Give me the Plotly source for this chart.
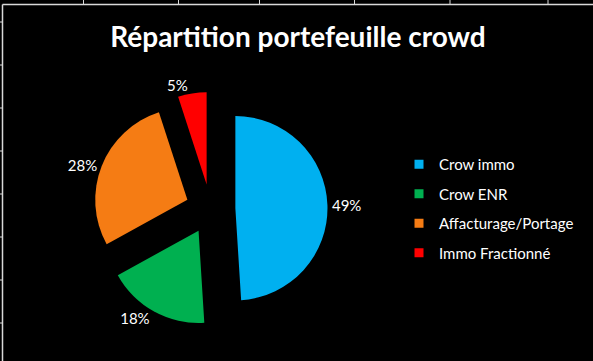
import plotly.graph_objects as go

labels = ["Crow immo", "Crow ENR", "Affacturage/Portage", "Immo Fractionné"]
values = [49, 18, 28, 5]
colors = ["#00B0F0", "#00B050", "#F57C14", "#FF0000"]
title_text = "Répartition portefeuille crowd"

W, H = 593, 361
FONT = "Lato, 'Open Sans', sans-serif"

fig = go.Figure()

# pie geometry (pixels -> paper)
cx, cy, half = 210.5, 209.0, 117.0
pull = 0.27

fig.add_trace(go.Pie(
    labels=labels,
    values=values,
    marker=dict(colors=colors, line=dict(width=0)),
    sort=False,
    direction="clockwise",
    rotation=0,
    pull=[pull] * len(values),
    textinfo="percent",
    texttemplate="%{percent:.0%}",
    textposition="outside",
    automargin=False,
    outsidetextfont=dict(color="white", size=15, family=FONT),
    showlegend=False,
    domain=dict(x=[(cx - half) / W, (cx + half) / W],
                y=[(H - cy - half) / H, (H - cy + half) / H]),
    hoverinfo="label+percent",
))

# legend entries (one group per label so they can be spaced like the original)
for i, (lab, col) in enumerate(zip(labels, colors)):
    fig.add_trace(go.Scatter(
        x=[None], y=[None], mode="markers", name=lab,
        marker=dict(symbol="square", size=9, color=col),
        legendgroup=f"g{i}", showlegend=True,
    ))

# spreadsheet-like frame lines behind the chart
line_col = "#d9d9d9"
shapes = []
top_y = 4.5
left_x = 2.5
shapes.append(dict(type="line", xref="paper", yref="paper",
                   x0=left_x / W, x1=1, y0=1 - top_y / H, y1=1 - top_y / H,
                   line=dict(color=line_col, width=1.5)))
shapes.append(dict(type="line", xref="paper", yref="paper",
                   x0=left_x / W, x1=left_x / W, y0=0, y1=1 - top_y / H,
                   line=dict(color=line_col, width=1.5)))
for tx in [83.5, 178.5, 259.5, 354.5, 450, 548]:
    shapes.append(dict(type="line", xref="paper", yref="paper",
                       x0=tx / W, x1=tx / W, y0=1, y1=1 - top_y / H,
                       line=dict(color=line_col, width=1)))
for ty in [22, 65, 108, 151, 194, 237, 280, 323]:
    shapes.append(dict(type="line", xref="paper", yref="paper",
                       x0=0, x1=left_x / W, y0=1 - ty / H, y1=1 - ty / H,
                       line=dict(color=line_col, width=1)))

fig.update_layout(
    width=W, height=H,
    margin=dict(l=0, r=0, t=0, b=0, pad=0, autoexpand=False),
    paper_bgcolor="#000000",
    plot_bgcolor="#000000",
    title=dict(text="<b>" + title_text + "</b>", x=0.5025, xanchor="center",
               y=1 - 37 / H, yanchor="middle",
               font=dict(color="white", size=28, family=FONT)),
    xaxis=dict(visible=False),
    yaxis=dict(visible=False),
    legend=dict(x=399 / W, xanchor="left", y=1 - 148 / H, yanchor="top",
                font=dict(color="white", size=15, family=FONT),
                bgcolor="rgba(0,0,0,0)", tracegroupgap=7),
    shapes=shapes,
)

fig.write_html("out.html",
               config={"displayModeBar": False},
               post_script="document.body.style.margin='0';"
                           "document.body.style.overflow='hidden';"
                           "document.body.style.background='#000';")
